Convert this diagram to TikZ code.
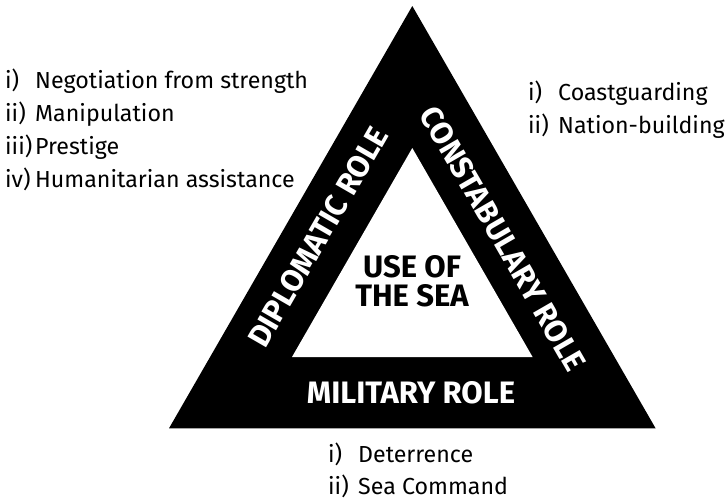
\documentclass[tikz,border=0pt]{standalone}
\usepackage{fontspec}
\setmainfont{Fira Sans}
\begin{document}
\begin{tikzpicture}[x=1pt,y=-1pt,
  item/.style={anchor=base west,inner sep=0pt,font=\fontsize{23.2}{24}\selectfont},
  rolelab/.style={text=white,inner sep=0pt,font=\fontsize{31}{29}\bfseries\selectfont},
  centrelab/.style={text=black,inner sep=0pt,align=center,font=\fontsize{31}{29}\bfseries\selectfont}]
\useasboundingbox (0,0) rectangle (725,501);
\newcommand{\lbl}[1]{\makebox[30pt][l]{#1}}
% triangles
\coordinate (oA) at (412.3,6);
\coordinate (oL) at (169,428.3);
\coordinate (oR) at (655.6,428.3);
\coordinate (iA) at (412.3,148);
\coordinate (iL) at (292,357);
\coordinate (iR) at (532.6,357);
\fill[black] (oA) -- (oL) -- (oR) -- cycle;
\fill[white] (iA) -- (iL) -- (iR) -- cycle;
% role labels
\node[rolelab,rotate=60] (dip) at (318,237) {DIPLOMATIC ROLE};
\node[rolelab,rotate=-60] (con) at (503,239) {CONSTABULARY ROLE};
\node[rolelab] (mil) at (411,393) {MILITARY ROLE};
\node[centrelab] (use) at (412,281) {USE OF\\THE SEA};
% left list
\node[item] (l1) at (5,88) {\lbl{i)}Negotiation from strength};
\node[item] (l2) at (5,121) {\lbl{ii)}Manipulation};
\node[item] (l3) at (5,154) {\lbl{iii)}Prestige};
\node[item] (l4) at (5,187) {\lbl{iv)}Humanitarian assistance};
% right list
\node[item] (r1) at (528,100) {\lbl{i)}Coastguarding};
\node[item] (r2) at (528,133) {\lbl{ii)}Nation-building};
% bottom list
\node[item] (b1) at (328,462) {\lbl{i)}Deterrence};
\node[item] (b2) at (328,494) {\lbl{ii)}Sea Command};
\end{tikzpicture}
\end{document}
